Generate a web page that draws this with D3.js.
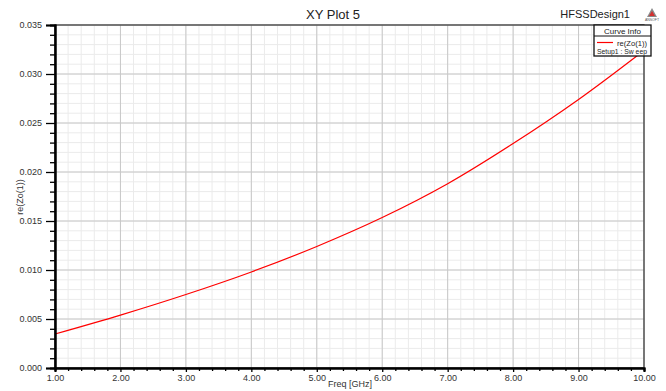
<!DOCTYPE html>
<html><head><meta charset="utf-8">
<script src="https://cdn.jsdelivr.net/npm/d3@7"></script>
<style>body{margin:0;background:#fff}svg{display:block;font-family:"Liberation Sans",Arial,sans-serif}</style>
</head><body>
<script>
const freqs = [1, 2, 3, 4, 5, 6, 7, 8, 9, 10];
const reZo = [0.00347, 0.00540, 0.00750, 0.00980, 0.01240, 0.01535, 0.01880, 0.02290, 0.02740, 0.03240];
const xTicks = [1, 2, 3, 4, 5, 6, 7, 8, 9, 10];
const yTicks = [0, 0.005, 0.01, 0.015, 0.02, 0.025, 0.03, 0.035];
const title = "XY Plot 5";
const xLabel = "Freq [GHz]";
const yLabel = "re(Zo(1))";
const seriesName = "re(Zo(1))";
const seriesSub = "Setup1 : Sw eep";

const W = 666, H = 391;
const m = {l: 55, r: 22, t: 25, b: 23};
const svg = d3.select("body").append("svg").attr("width", W).attr("height", H);
const x = d3.scaleLinear().domain([1, 10]).range([m.l, W - m.r]);
const y = d3.scaleLinear().domain([0, 0.035]).range([H - m.b, m.t]);

// grid
const xMinor = d3.range(1, 10.0001, 0.2);
const yMinor = d3.range(0, 0.03501, 0.001);
const g = svg.append("g");
g.selectAll(".vx").data(xMinor).join("line")
  .attr("x1", d => x(d)).attr("x2", d => x(d)).attr("y1", m.t).attr("y2", H - m.b)
  .attr("stroke", "#ebebeb").attr("stroke-width", 1);
g.selectAll(".hy").data(yMinor).join("line")
  .attr("y1", d => y(d)).attr("y2", d => y(d)).attr("x1", m.l).attr("x2", W - m.r)
  .attr("stroke", "#ebebeb").attr("stroke-width", 1);
g.selectAll(".vX").data(xTicks).join("line")
  .attr("x1", d => x(d)).attr("x2", d => x(d)).attr("y1", m.t).attr("y2", H - m.b)
  .attr("stroke", "#c8c8c8").attr("stroke-width", 1);
g.selectAll(".hY").data(yTicks).join("line")
  .attr("y1", d => y(d)).attr("y2", d => y(d)).attr("x1", m.l).attr("x2", W - m.r)
  .attr("stroke", "#c8c8c8").attr("stroke-width", 1);

// curve
svg.append("path")
  .datum(freqs.map((f, i) => [f, reZo[i]]))
  .attr("fill", "none").attr("stroke", "#ff0000").attr("stroke-width", 1.2)
  .attr("d", d3.line().x(d => x(d[0])).y(d => y(d[1])).curve(d3.curveCatmullRom));

// frame
svg.append("rect").attr("x", m.l).attr("y", m.t).attr("width", W - m.r - m.l).attr("height", H - m.b - m.t)
  .attr("fill", "none").attr("stroke", "#333").attr("stroke-width", 1.2);

// axes
const yAx = svg.append("g").attr("transform", `translate(${m.l},0)`)
  .call(d3.axisLeft(y).tickValues(yTicks).tickFormat(d3.format(".3f")).tickSize(9).tickPadding(4));
const yMin = svg.append("g").attr("transform", `translate(${m.l},0)`)
  .call(d3.axisLeft(y).tickValues(yMinor.filter((d, i) => i % 5 !== 0)).tickFormat("").tickSize(5));
const xAx = svg.append("g").attr("transform", `translate(0,${H - m.b})`)
  .call(d3.axisBottom(x).tickValues(xTicks).tickFormat(d3.format(".2f")).tickSize(4).tickPadding(3));
const xMin = svg.append("g").attr("transform", `translate(0,${H - m.b})`)
  .call(d3.axisBottom(x).tickValues(xMinor.filter((d, i) => i % 5 !== 0)).tickFormat("").tickSize(3));
[yAx, yMin, xAx, xMin].forEach(a => {
  a.select(".domain").attr("stroke", "#000").attr("stroke-width", 2);
  a.selectAll(".tick line").attr("stroke", "#000").attr("stroke-width", 1.3);
  a.selectAll("text").attr("fill", "#333").attr("font-size", 9).attr("font-family", '"Liberation Sans",Arial,sans-serif');
});

// titles
svg.append("text").attr("x", W / 2).attr("y", 19).attr("text-anchor", "middle")
  .attr("font-size", 13).attr("fill", "#222").text(title);
svg.append("text").attr("x", 630).attr("y", 18).attr("text-anchor", "end")
  .attr("font-size", 11).attr("fill", "#222").text("HFSSDesign1");
svg.append("text").attr("x", 350).attr("y", 387).attr("text-anchor", "middle")
  .attr("font-size", 9).attr("fill", "#333").text(xLabel);
svg.append("text").attr("transform", "translate(23,197) rotate(-90)").attr("text-anchor", "middle")
  .attr("font-size", 9).attr("fill", "#333").text(yLabel);

// logo
const lg = svg.append("g").attr("transform", "translate(647,8)");
lg.append("path").attr("d", "M5,0 L10,9 L0,9 Z").attr("fill", "#8a8a8a");
lg.append("path").attr("d", "M5,3 L8,8 L2,8 Z").attr("fill", "#d23030");
lg.append("text").attr("x", 5).attr("y", 13).attr("text-anchor", "middle").attr("font-size", 3.5).attr("fill", "#555").text("ANSOFT");

// legend
const L = svg.append("g").attr("transform", "translate(594,25)");
L.append("rect").attr("width", 57).attr("height", 31).attr("fill", "#fff").attr("stroke", "#111").attr("stroke-width", 1.3);
L.append("line").attr("x1", 0).attr("x2", 57).attr("y1", 11).attr("y2", 11).attr("stroke", "#111").attr("stroke-width", 1);
L.append("text").attr("x", 28.5).attr("y", 8.5).attr("text-anchor", "middle").attr("font-size", 8).attr("fill", "#222").text("Curve Info");
L.append("line").attr("x1", 3).attr("x2", 19).attr("y1", 17.5).attr("y2", 17.5).attr("stroke", "#ff0000").attr("stroke-width", 1.2);
L.append("text").attr("x", 23).attr("y", 20.5).attr("font-size", 8).attr("fill", "#222")
  .attr("textLength", 30).attr("lengthAdjust", "spacingAndGlyphs").text(seriesName);
L.append("text").attr("x", 3).attr("y", 28.8).attr("font-size", 8).attr("fill", "#222")
  .attr("textLength", 50).attr("lengthAdjust", "spacingAndGlyphs").text(seriesSub);
</script>
</body></html>
